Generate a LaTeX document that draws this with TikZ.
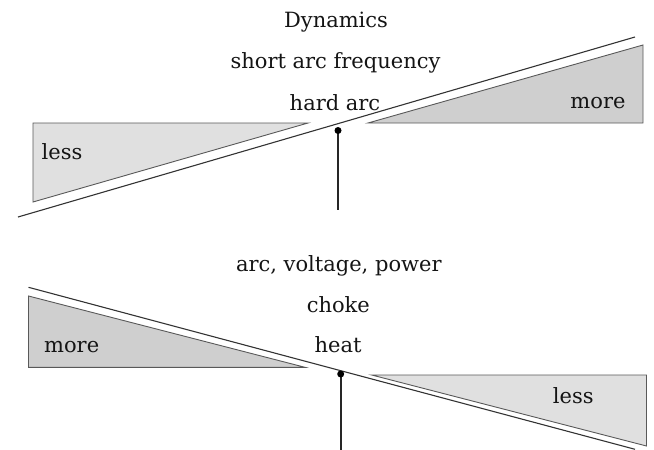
\documentclass[tikz,border=0pt]{standalone}
\usepackage{fontspec}
\setmainfont{DejaVu Serif}
\begin{document}
\begin{tikzpicture}[x=1pt,y=-1pt,
  lbl/.style={anchor=base, inner sep=0pt, font=\fontsize{21}{24}\selectfont, text=black!92},
  wedgeless/.style={fill=black!12, draw=black!65, line width=0.9pt, line join=miter},
  wedgemore/.style={fill=black!19, draw=black!65, line width=0.9pt, line join=miter},
  beam/.style={draw=black!80, line width=1.1pt},
  post/.style={draw=black!85, line width=1.8pt},
  pivot/.style={fill=black, circle, inner sep=0pt, minimum size=7pt}]
\useasboundingbox (0,0) rectangle (654,450);
% ---------- top balance ----------
\draw[wedgeless] (33,123) -- (308,123) -- (33,202) -- cycle;
\draw[wedgemore] (643,45) -- (643,123) -- (368,123) -- cycle;
\coordinate (b1s) at (18,217);
\coordinate (b1e) at (635,37);
\draw[beam] (b1s) -- (b1e);
\coordinate (p1f) at (338,210);
\draw[post] (338,130.5) -- (p1f);
\node[pivot] (p1) at (338,130.5) {};
\node[lbl] (t1) at (336,27.7) {Dynamics};
\node[lbl] (t2) at (335.5,68.5) {short arc frequency};
\node[lbl] (t3) at (335,110) {hard arc};
\node[lbl] (m1) at (598,108.3) {more};
\node[lbl] (l1) at (62,159.3) {less};
% ---------- bottom balance ----------
\draw[wedgemore] (28.5,296) -- (305,367.3) -- (28.5,367.3) -- cycle;
\draw[wedgeless] (371.7,375) -- (646.5,375) -- (646.5,446) -- cycle;
\coordinate (b2s) at (28.5,287.3);
\coordinate (b2e) at (635,449.3);
\draw[beam] (b2s) -- (b2e);
\coordinate (p2f) at (340.7,450);
\draw[post] (340.7,374) -- (p2f);
\node[pivot] (p2) at (340.7,374) {};
\node[lbl] (t4) at (338.8,271.7) {arc, voltage, power};
\node[lbl] (t5) at (338.3,312.7) {choke};
\node[lbl] (t6) at (338,352.7) {heat};
\node[lbl] (m2) at (71.7,352.7) {more};
\node[lbl] (l2) at (573.3,403.3) {less};
\end{tikzpicture}
\end{document}
